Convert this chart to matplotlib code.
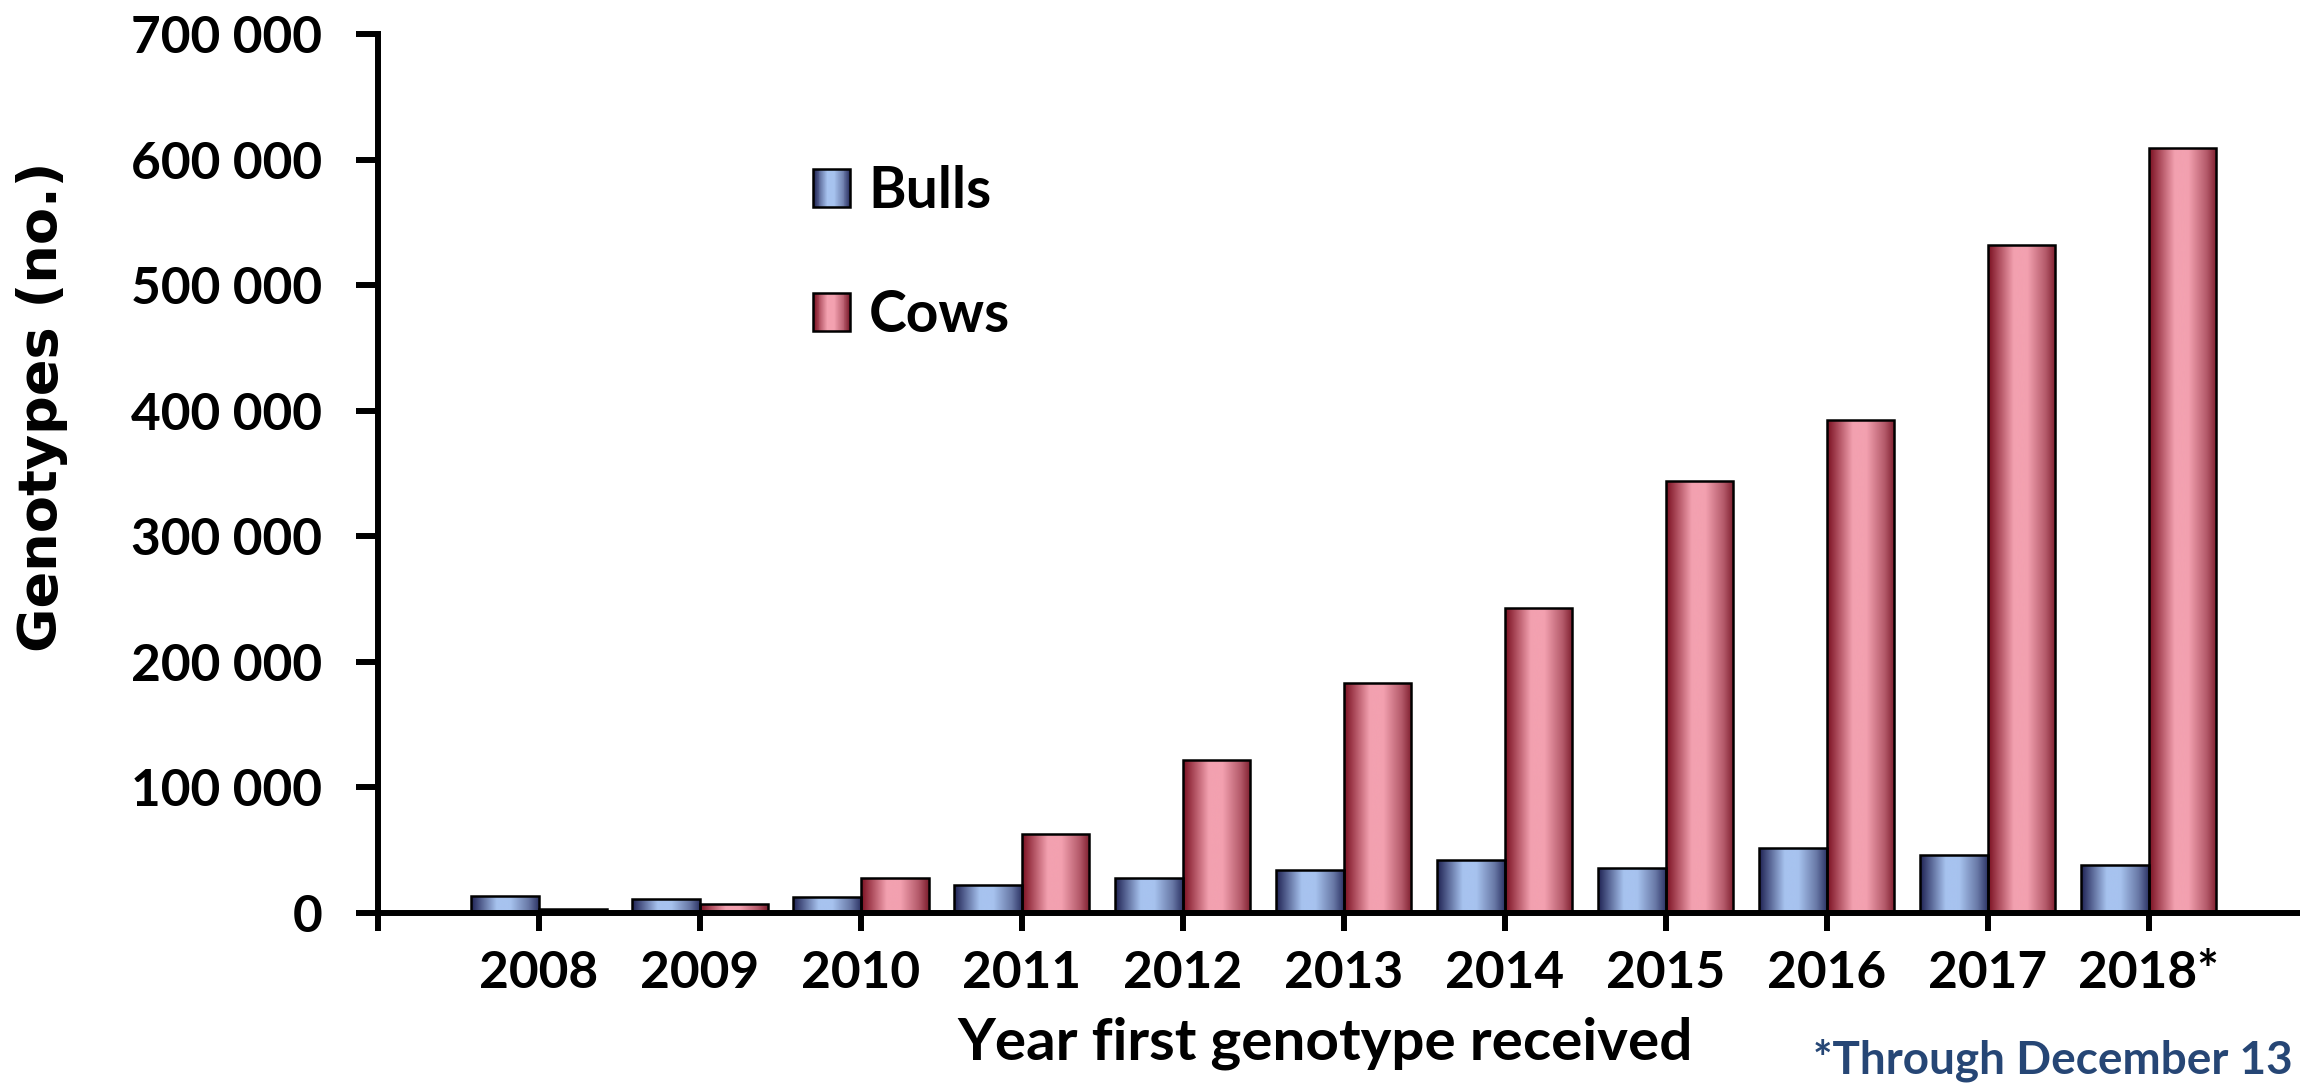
import numpy as np
import matplotlib
matplotlib.use("Agg")
import matplotlib.pyplot as plt
from matplotlib.colors import LinearSegmentedColormap
from matplotlib.patches import Patch
from matplotlib.legend_handler import HandlerPatch
from matplotlib.ticker import FuncFormatter, FixedLocator

### data
years = ["2008", "2009", "2010", "2011", "2012", "2013", "2014", "2015", "2016", "2017", "2018*"]
bulls = [13500, 11000, 12500, 22000, 28000, 34000, 42000, 36000, 52000, 46000, 38000]
cows = [3000, 7000, 28000, 63000, 122000, 183000, 243000, 344000, 393000, 532000, 609000]

### colours
bull_cmap = LinearSegmentedColormap.from_list(
    "bulls", [(0.0, "#1e2152"), (0.38, "#a7c3ef"), (0.58, "#a7c3ef"), (0.85, "#6878a6"), (1.0, "#2e3566")])
cow_cmap = LinearSegmentedColormap.from_list(
    "cows", [(0.0, "#7a0f20"), (0.38, "#f3a1b0"), (0.58, "#f3a1b0"), (0.85, "#b45a6a"), (1.0, "#7e1e2e")])
note_color = "#264675"

plt.rcParams['font.family'] = ['Lato', 'DejaVu Sans']
plt.rcParams['font.weight'] = 'bold'

bar_w = 0.42
grad = np.linspace(0, 1, 256).reshape(1, -1)

W, H = 2300, 1084   # figure size in pixels
ax_left, ax_bottom, ax_w, ax_h = 378, 171, 1922, 879   # axes box in pixels


def fill_gradient(ax, bars, cmap):
    # paint each bar with a horizontal gradient, clipped to the bar
    for rect in bars:
        x0, y0 = rect.get_x(), rect.get_y()
        w, h = rect.get_width(), rect.get_height()
        im = ax.imshow(grad, extent=[x0, x0 + w, y0, y0 + h], aspect='auto',
                       cmap=cmap, interpolation='bicubic', zorder=2)
        im.set_clip_path(rect)


class GradientHandler(HandlerPatch):
    def __init__(self, cmap):
        super().__init__()
        self.cmap = cmap

    def create_artists(self, legend, orig_handle, xdescent, ydescent,
                       width, height, fontsize, trans):
        arts = []
        n = 40
        for i in range(n):
            p = plt.Rectangle((-xdescent + width * i / n, -ydescent), width / n + 0.3, height,
                              facecolor=self.cmap(i / (n - 1)), edgecolor='none', transform=trans)
            arts.append(p)
        frame = plt.Rectangle((-xdescent, -ydescent), width, height, facecolor='none',
                              edgecolor='black', linewidth=1.8, transform=trans)
        arts.append(frame)
        return arts


fig = plt.figure(figsize=(W / 100, H / 100), dpi=100)
ax = fig.add_axes([ax_left / W, ax_bottom / H, ax_w / W, ax_h / H])

x = np.arange(len(years))
bb = ax.bar(x - bar_w / 2, bulls, bar_w, facecolor='none', edgecolor='black', linewidth=1.8, zorder=3)
cb = ax.bar(x + bar_w / 2, cows, bar_w, facecolor='none', edgecolor='black', linewidth=1.8, zorder=3)
fill_gradient(ax, bb, bull_cmap)
fill_gradient(ax, cb, cow_cmap)

ax.set_xlim(-1, 10.94)
ax.set_ylim(0, 700000)

ax.spines['top'].set_visible(False)
ax.spines['right'].set_visible(False)
for s in ['left', 'bottom']:
    ax.spines[s].set_linewidth(4.3)
    ax.spines[s].set_zorder(5)

ax.xaxis.set_major_locator(FixedLocator([-1] + list(x)))
ax.set_xticklabels([""] + years)
ax.set_yticks(np.arange(0, 700001, 100000))
ax.yaxis.set_major_formatter(FuncFormatter(lambda v, p: "{:,}".format(int(v)).replace(",", " ")))
ax.tick_params(axis='y', length=16, width=4.3, labelsize=37, pad=24)
ax.tick_params(axis='x', length=13, width=4.3, labelsize=37, pad=14)
for lab in ax.get_xticklabels() + ax.get_yticklabels():
    lab.set_fontweight('bold')

ax.set_xlabel("Year first genotype received", fontsize=42, fontweight='bold', va='baseline')
ax.xaxis.set_label_coords((1325 - ax_left) / ax_w, (H - 1060 - ax_bottom) / ax_h)
ax.set_ylabel("Genotypes (no.)", fontsize=39, fontweight='bold', va='center',
              family=['DejaVu Sans'])
ax.yaxis.set_label_coords((42 - ax_left) / ax_w, (H - 407 - ax_bottom) / ax_h)

handles = [Patch(label="Bulls"), Patch(label="Cows")]
leg = ax.legend(handles=handles, loc='upper left', bbox_to_anchor=(813 / W, 1 - 165 / H),
                bbox_transform=fig.transFigure, frameon=False, fontsize=41,
                handlelength=0.65, handleheight=0.65, handletextpad=0.33, labelspacing=1.25,
                borderpad=0, borderaxespad=0,
                handler_map={handles[0]: GradientHandler(bull_cmap),
                             handles[1]: GradientHandler(cow_cmap)})
for t in leg.get_texts():
    t.set_fontweight('bold')

fig.text(2293 / W, 10 / H, "*Through December 13", ha='right', va='baseline',
         fontsize=33, fontweight='bold', color=note_color)

fig.savefig("out.png", dpi=100)
